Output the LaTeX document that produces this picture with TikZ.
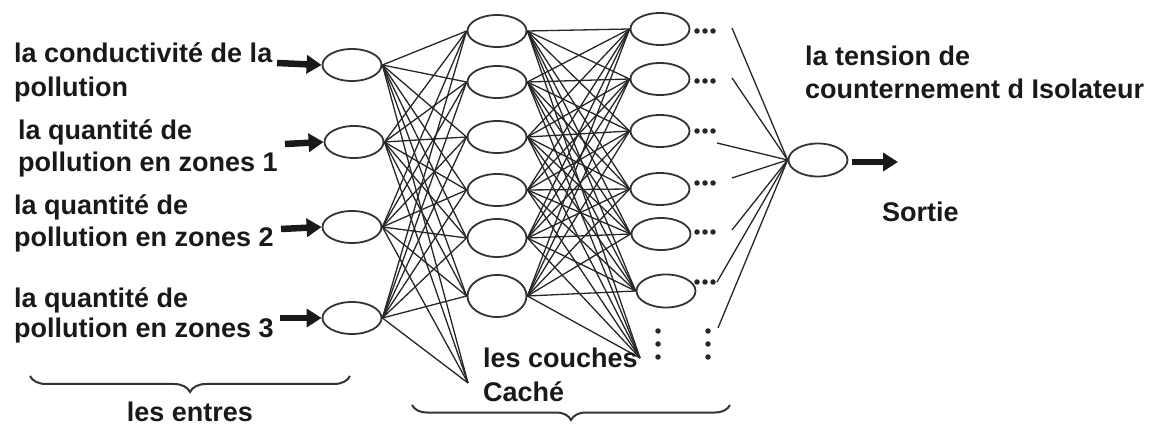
\documentclass[tikz,border=0pt]{standalone}
\usepackage{fontspec}
\setmainfont{Liberation Sans}
\usetikzlibrary{shapes.geometric,arrows.meta,decorations.pathreplacing}
\begin{document}
\begin{tikzpicture}[x=1pt,y=-1pt,
  neuron/.style={ellipse,draw=black!80,line width=1.8pt,fill=white,inner sep=0pt,minimum width=59pt,minimum height=32pt},
  link/.style={line width=1.3pt,draw=black!85},
  lbl/.style={anchor=base west,inner sep=0pt,font=\fontsize{27}{32}\selectfont\bfseries,text=black!90},
  bigarrow/.style={line width=6.5pt,-{Triangle[length=15pt,width=18pt]},black!90},
  dot/.style={circle,fill=black!85,inner sep=0pt,minimum size=5.5pt},
  bracestyle/.style={decorate,decoration={brace,mirror,amplitude=16pt},line width=2pt,black!80}]
\useasboundingbox (0,0) rectangle (1151,427);

% input layer
\node[neuron] (i1) at (352,65) {};
\node[neuron] (i2) at (354,142) {};
\node[neuron] (i3) at (352,227) {};
\node[neuron] (i4) at (352,318) {};
% hidden layer 1
\node[neuron] (h1) at (497,31) {};
\node[neuron] (h2) at (497,82) {};
\node[neuron] (h3) at (497,137) {};
\node[neuron] (h4) at (497,190) {};
\node[neuron,minimum height=38pt] (h5) at (497,238) {};
\node[neuron,minimum height=42pt] (h6) at (497,296) {};
\coordinate (h7) at (468,383);
% hidden layer 2
\node[neuron] (g1) at (660,29) {};
\node[neuron] (g2) at (660,79) {};
\node[neuron] (g3) at (660,131) {};
\node[neuron] (g4) at (660,189) {};
\node[neuron] (g5) at (661,234) {};
\node[neuron,minimum height=33pt] (g6) at (666,291) {};
\coordinate (g7) at (640,358);
% output
\node[neuron,minimum height=33pt] (o) at (818,160) {};

% connections input -> hidden 1
\foreach \i in {1,...,4}{
  \foreach \j in {1,...,6}{\draw[link] (i\i.east) -- (h\j.west);}
  \draw[link] (i\i.east) -- (h7);
}
% connections hidden 1 -> hidden 2
\foreach \i in {1,...,6}{
  \foreach \j in {1,...,6}{\draw[link] (h\i.east) -- (g\j.west);}
  \draw[link] (h\i.east) -- (g7);
}

% dots after hidden layer 2
\foreach \y [count=\k] in {31,81,131,183,232,282}{
  \node[dot] (d\k a) at (697,\y) {};
  \node[dot] (d\k b) at (705,\y) {};
  \node[dot] (d\k c) at (713,\y) {};
}
\foreach \y [count=\k] in {331,344,357}{
  \node[dot] (va\k) at (658,\y) {};
  \node[dot] (vb\k) at (708,\y) {};
}

% lines to output
\coordinate (c1) at (732,28);
\coordinate (c2) at (732,78);
\coordinate (c3) at (717,143);
\coordinate (c4) at (732,178);
\coordinate (c5) at (732,230);
\coordinate (c6) at (717,282);
\coordinate (c7) at (718,328);
\foreach \k in {1,...,7}{\draw[link] (c\k) -- (o.west);}

% input arrows
\coordinate (a1) at (277,63);
\coordinate (a2) at (285,144);
\coordinate (a3) at (281,229);
\coordinate (a4) at (280,318);
\draw[bigarrow] (a1) -- (i1.west);
\draw[bigarrow] (a2) -- (i2.west);
\draw[bigarrow] (a3) -- (i3.west);
\draw[bigarrow] (a4) -- (i4.west);
% output arrow
\coordinate (oa) at (898,162);
\draw[bigarrow] (o.east) ++(4,2) coordinate (ob) -- (oa);

% labels
\node[lbl] (t1a) at (14,63) {la conductivité de la};
\node[lbl] (t1b) at (14,97) {pollution};
\node[lbl] (t2a) at (18,140) {la quantité de};
\node[lbl] (t2b) at (18,172) {pollution en zones 1};
\node[lbl] (t3a) at (14,215) {la quantité de};
\node[lbl] (t3b) at (14,247) {pollution en zones 2};
\node[lbl] (t4a) at (14,308) {la quantité de};
\node[lbl] (t4b) at (14,338) {pollution en zones 3};
\node[lbl] (t5a) at (805,66) {la tension de};
\node[lbl] (t5b) at (805,99) {counternement d Isolateur};
\node[lbl] (t6) at (882,222) {Sortie};
\node[lbl] (t7a) at (483,368) {les couches};
\node[lbl] (t7b) at (483,402) {Caché};
\node[lbl,anchor=base] (t8) at (190,421) {les entres};

% braces
\coordinate (b1s) at (30,376);
\coordinate (b1e) at (350,376);
\draw[bracestyle] (b1s) -- (b1e);
\coordinate (b2s) at (412,405);
\coordinate (b2e) at (730,405);
\draw[bracestyle,decoration={amplitude=15pt}] (b2s) -- (b2e);
\end{tikzpicture}
\end{document}
